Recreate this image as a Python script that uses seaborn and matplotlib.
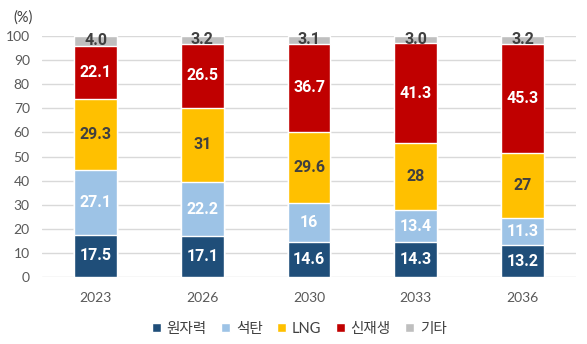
import numpy as np
import pandas as pd
import seaborn as sns
import matplotlib.pyplot as plt
from matplotlib.patches import Patch

# data
years = ["2023", "2026", "2030", "2033", "2036"]
series = ["원자력", "석탄", "LNG", "신재생", "기타"]
nuclear = ["17.5", "17.1", "14.6", "14.3", "13.2"]
coal = ["27.1", "22.2", "16", "13.4", "11.3"]
lng = ["29.3", "31", "29.6", "28", "27"]
renew = ["22.1", "26.5", "36.7", "41.3", "45.3"]
other = ["4.0", "3.2", "3.1", "3.0", "3.2"]

colors = ["#1F4E79", "#9DC3E6", "#FFC000", "#C00000", "#BFBFBF"]
label_colors = ["white", "white", "#404040", "white", "#404040"]

sns.set_style("white")
plt.rcParams["font.family"] = ["Lato", "Noto Sans CJK KR", "DejaVu Sans"]

texts = [nuclear, coal, lng, renew, other]
vals = np.array([[float(v) for v in t] for t in texts])
cum = np.cumsum(vals, axis=0)

fig = plt.figure(figsize=(5.87, 3.44), dpi=100)
ax = fig.add_axes([0.072, 0.195, 0.909, 0.70])

# draw cumulative stacks, tallest first
for i in range(len(series) - 1, -1, -1):
    df = pd.DataFrame({"year": years, "value": cum[i]})
    sns.barplot(data=df, x="year", y="value", color=colors[i], width=0.40,
                saturation=1, ax=ax, zorder=2)

# data labels
for i in range(len(series)):
    for j in range(len(years)):
        y = cum[i, j] - vals[i, j] / 2
        ax.text(j, y, texts[i][j], ha="center", va="center", fontsize=11.5,
                fontweight="bold", color=label_colors[i], zorder=3,
                family=["Roboto"])

ax.set_ylim(0, 100)
ax.set_yticks(np.arange(0, 101, 10))
ax.set_xlim(-0.5, 4.5)
ax.yaxis.grid(True, color="#D9D9D9", linewidth=1, zorder=0)
ax.set_axisbelow(True)
for s in ax.spines.values():
    s.set_visible(False)
ax.tick_params(axis="both", length=0, labelsize=10, colors="#595959")
ax.tick_params(axis="x", pad=11)
ax.tick_params(axis="y", pad=9)
ax.set_xlabel("")
ax.set_ylabel("")
fig.text(0.022, 0.95, "(%)", fontsize=10.5, color="#404040", ha="left", va="center")

handles = [Patch(facecolor=c, label=s) for c, s in zip(colors, series)]
fig.legend(handles=handles, loc="center", bbox_to_anchor=(0.51, 0.045), ncol=5,
           frameon=False, fontsize=10.5, handlelength=0.6, handleheight=0.6,
           handletextpad=0.4, columnspacing=1.0, labelcolor="#404040")

plt.savefig("out.png", dpi=100)
